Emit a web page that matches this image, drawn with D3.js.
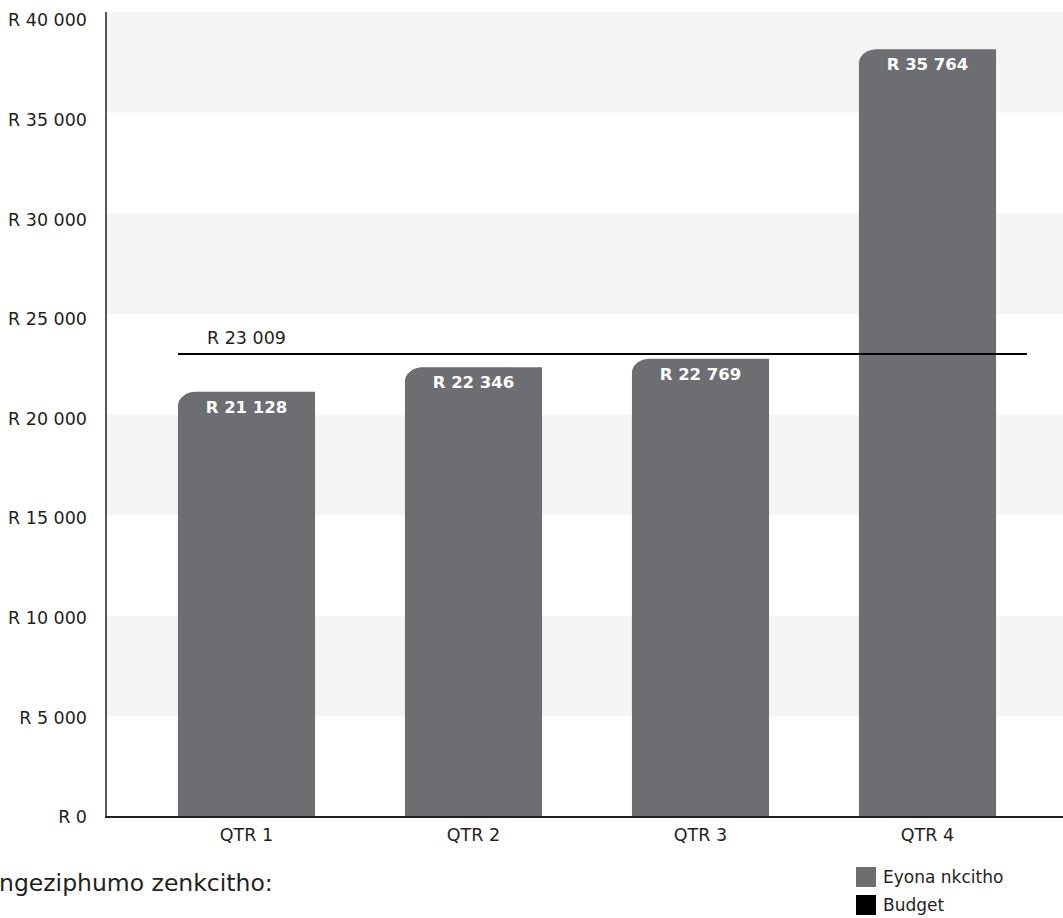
<!DOCTYPE html>
<html>
<head>
<meta charset="utf-8">
<script src="https://cdn.jsdelivr.net/npm/d3@7"></script>
<style>
  html, body { margin: 0; padding: 0; background: #fff; }
  svg { display: block; font-family: "DejaVu Sans", Lato, sans-serif; }
</style>
</head>
<body>
<svg id="chart" width="1063" height="918"></svg>
<script>
// ---- data ----
const categories = ["QTR 1", "QTR 2", "QTR 3", "QTR 4"];
// bar heights as drawn in the picture
const actualValues = [21128, 22346, 22769, 38150];
// value labels as printed on the bars
const barLabels = ["R 21 128", "R 22 346", "R 22 769", "R 35 764"];
const budgetValue = 23009;
const budgetLabel = "R 23 009";
const yTicks = [0, 5000, 10000, 15000, 20000, 25000, 30000, 35000, 40000];
const yTickLabels = ["R 0", "R 5 000", "R 10 000", "R 15 000", "R 20 000", "R 25 000", "R 30 000", "R 35 000", "R 40 000"];
const legendItems = ["Eyona nkcitho", "Budget"];
const footerText = "ngeziphumo zenkcitho:";

// ---- layout ----
const W = 1063, H = 918;
const axisX = 106, plotRight = 1063;
const y0 = 817, yTop = 12;
const barColor = "#6d6e71", textColor = "#231f20";

const svg = d3.select("#chart");

const x = d3.scaleBand().domain(categories).range([133, 1041])
  .paddingInner(0.396).paddingOuter(0.198);
const y = d3.scaleLinear().domain([0, 40000]).range([y0, yTop]);
const yLab = d3.scaleLinear().domain([0, 40000]).range([817, 20]);

// alternating background bands (gray at top)
const bands = d3.range(yTicks.length - 1).map(i => [yTicks[i], yTicks[i + 1]]);
svg.append("g").selectAll("rect").data(bands).join("rect")
  .attr("x", axisX)
  .attr("width", plotRight - axisX)
  .attr("y", d => y(d[1]))
  .attr("height", d => y(d[0]) - y(d[1]))
  .attr("fill", (d, i) => (bands.length - 1 - i) % 2 === 0 ? "#f5f5f5" : "#ffffff");

// y tick labels
svg.append("g").selectAll("text").data(yTicks).join("text")
  .attr("x", 87)
  .attr("y", d => yLab(d))
  .attr("dy", "0.36em")
  .attr("text-anchor", "end")
  .attr("font-size", 17.5)
  .attr("fill", textColor)
  .text((d, i) => yTickLabels[i]);

// bars with rounded top-left corner
const rx = 18, ry = 14;
function barPath(v, c) {
  const x0 = x(c), x1 = x(c) + x.bandwidth();
  const top = y(v), bot = y(0);
  return `M${x0},${bot} L${x0},${top + ry} A${rx},${ry} 0 0 1 ${x0 + rx},${top} L${x1},${top} L${x1},${bot} Z`;
}
svg.append("g").selectAll("path").data(actualValues).join("path")
  .attr("d", (d, i) => barPath(d, categories[i]))
  .attr("fill", barColor);

// bar labels
svg.append("g").selectAll("text").data(actualValues).join("text")
  .attr("x", (d, i) => x(categories[i]) + x.bandwidth() / 2)
  .attr("y", d => y(d) + 21)
  .attr("text-anchor", "middle")
  .attr("font-size", 16.5)
  .attr("font-weight", "bold")
  .attr("fill", "#ffffff")
  .text((d, i) => barLabels[i]);

// budget line
const by = y(budgetValue);
svg.append("line")
  .attr("x1", x(categories[0]))
  .attr("x2", x(categories[categories.length - 1]) + x.bandwidth() + 31)
  .attr("y1", by).attr("y2", by)
  .attr("stroke", "#000").attr("stroke-width", 2);
svg.append("text")
  .attr("x", x(categories[0]) + x.bandwidth() / 2)
  .attr("y", by - 10)
  .attr("text-anchor", "middle")
  .attr("font-size", 17.5)
  .attr("fill", textColor)
  .text(budgetLabel);

// axes lines
svg.append("line").attr("x1", axisX).attr("x2", axisX).attr("y1", yTop).attr("y2", y0)
  .attr("stroke", "#231f20").attr("stroke-width", 1.5);
svg.append("line").attr("x1", axisX - 1).attr("x2", plotRight).attr("y1", y0).attr("y2", y0)
  .attr("stroke", "#231f20").attr("stroke-width", 2);

// x labels
svg.append("g").selectAll("text").data(categories).join("text")
  .attr("x", d => x(d) + x.bandwidth() / 2)
  .attr("y", 841)
  .attr("text-anchor", "middle")
  .attr("font-size", 17.5)
  .attr("fill", textColor)
  .text(d => d);

// footer text
svg.append("text")
  .attr("x", -1).attr("y", 891)
  .attr("font-size", 23.5)
  .attr("fill", textColor)
  .text(footerText);

// legend
const legendColors = [barColor, "#000000"];
const lg = svg.append("g").selectAll("g").data(legendItems).join("g")
  .attr("transform", (d, i) => `translate(856, ${867 + i * 28})`);
lg.append("rect").attr("width", 20).attr("height", 20).attr("fill", (d, i) => legendColors[i]);
lg.append("text").attr("x", 27).attr("y", 16)
  .attr("font-size", 17).attr("fill", textColor).text(d => d);
</script>
</body>
</html>
